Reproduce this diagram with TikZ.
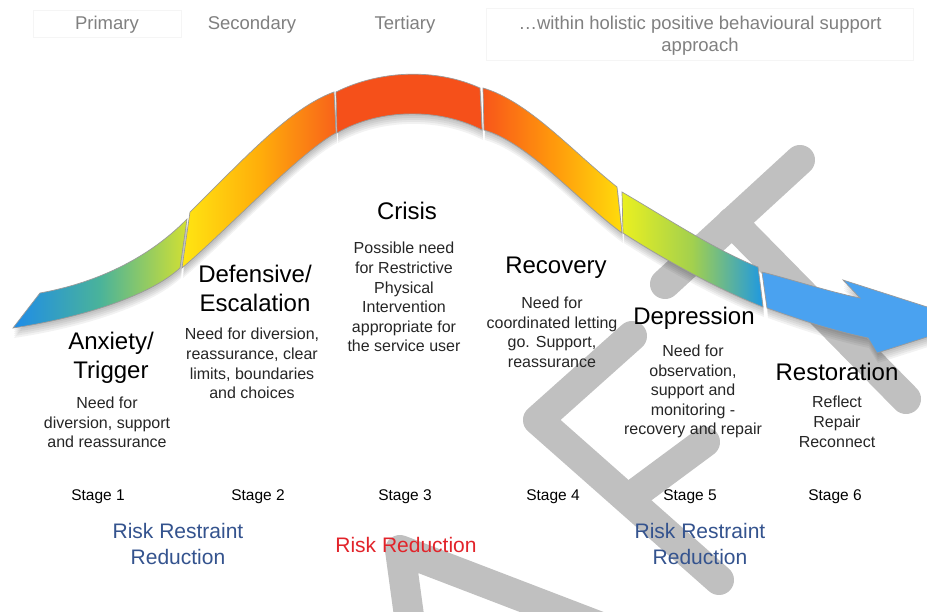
\documentclass[tikz,border=0pt]{standalone}
\usepackage{fontspec}
\setmainfont{Liberation Sans}
\definecolor{wmgray}{HTML}{C0C0C0}
\definecolor{tiergray}{HTML}{808080}
\definecolor{riskblue}{HTML}{34538E}
\definecolor{riskred}{HTML}{E2232A}
\definecolor{bandedge}{HTML}{9A9A9A}
\definecolor{calmblue}{HTML}{1E8CE8}
\definecolor{calmteal}{HTML}{4AB39A}
\definecolor{calmlime}{HTML}{D2E032}
\definecolor{riseyellow}{HTML}{FFE612}
\definecolor{riseamber}{HTML}{FFAE0A}
\definecolor{riseorange}{HTML}{F8621A}
\definecolor{peakred}{HTML}{F5501A}
\definecolor{fallred}{HTML}{F8561A}
\definecolor{fallamber}{HTML}{FF980C}
\definecolor{fallyellow}{HTML}{FFDC0C}
\definecolor{lowyellow}{HTML}{EAF020}
\definecolor{lowgreen}{HTML}{A2D04E}
\definecolor{lowblue}{HTML}{1E98E2}
\definecolor{restblue}{HTML}{4AA2F0}
\usetikzlibrary{positioning}

% band pieces (x=1pt, y=-1pt, origin top left)
\newcommand{\pieceone}{(13,328) -- (40,293)
  .. controls (90,284) and (145,262) .. (187,219) -- (180,268)
  .. controls (150,296) and (80,318) .. (13,328) -- cycle}
\newcommand{\piecetwo}{(190,212) .. controls (245,158) and (290,108) .. (334,92)
  -- (336,133) .. controls (300,152) and (225,232) .. (182,268) -- cycle}
\newcommand{\piecethree}{(336,92) .. controls (380,70) and (436,68) .. (480,88)
  -- (482,130) .. controls (440,108) and (380,108) .. (337,133) -- cycle}
\newcommand{\piecefour}{(483,88) .. controls (528,101) and (572,151) .. (617,187)
  -- (622,233) .. controls (577,200) and (529,143) .. (484,130) -- cycle}
\newcommand{\piecefive}{(622,192) .. controls (665,217) and (715,250) .. (758,267)
  -- (763,307) .. controls (720,290) and (668,262) .. (623,233) -- cycle}
\newcommand{\piecesix}{(762,272) .. controls (790,279) and (830,292) .. (860,298)
  -- (843,280) -- (974,322) -- (877,353) -- (868,338)
  .. controls (830,330) and (795,318) .. (767,308) -- cycle}

\begin{document}
\begin{tikzpicture}[
    x=1pt, y=-1pt,
    head/.style={font=\fontsize{24}{29}\selectfont, align=center, inner sep=0pt, anchor=north},
    need/.style={font=\fontsize{16}{19.6}\selectfont, align=center, inner sep=0pt, text=black!85},
    stagelbl/.style={font=\fontsize{15.5}{18}\selectfont, inner sep=0pt, anchor=base},
    risk/.style={font=\fontsize{21}{26}\selectfont, align=center, inner sep=0pt},
    tier/.style={font=\fontsize{18.5}{22}\selectfont, text=tiergray, align=center, inner sep=0pt},
    tierbox/.style={draw=black!4, line width=0.8pt},
    piece/.style={draw=bandedge, line width=0.7pt},
    wm/.style={draw=wmgray, line width=30pt, line cap=round, line join=round}
]

\useasboundingbox[fill=white] (0,0) rectangle (927,612);

% ── Watermark letters (behind everything) ──
\draw[wm] (413,645) -- (400,550) -- (700,665);
\draw[wm] (632,336) -- (538,420) -- (719,580);
\draw[wm] (628,499) -- (705,442);
\draw[wm] (800,160) -- (665,284);
\draw[wm] (732,222) -- (906,399);

% ── Phase headers ──
\draw[tierbox] (33,10) rectangle (181,37);
\draw[tierbox] (486,8) rectangle (913,60);
\node[tier, anchor=base] (primary) at (107,29.5) {Primary};
\node[tier, anchor=base] (secondary) at (252,29.5) {Secondary};
\node[tier, anchor=base] (tertiary) at (405,29.5) {Tertiary};
\node[tier, anchor=north] (holistic) at (700,16) {\ldots within holistic positive behavioural support\\approach};

% ── Band shadow ──
\foreach \dy in {2,4,...,10}
  \fill[black, opacity=0.05, shift={(1,\dy)}]
    \pieceone \piecetwo \piecethree \piecefour \piecefive \piecesix;

% ── Band ──
\path[piece, left color=calmblue, right color=calmlime, middle color=calmteal] \pieceone;
\path[piece, left color=riseyellow, right color=riseorange, middle color=riseamber] \piecetwo;
\path[piece, fill=peakred] \piecethree;
\path[piece, left color=fallred, right color=fallyellow, middle color=fallamber] \piecefour;
\path[piece, left color=lowyellow, right color=lowblue, middle color=lowgreen] \piecefive;
\path[piece, fill=restblue] \piecesix;

% ── Stages along the curve ──
\node[head] (anx) at (111,332) {Anxiety/\\Trigger};
\node[need, below=13pt of anx, xshift=-4pt] (anxneed) {Need for\\diversion, support\\and reassurance};

\node[head] (def) at (255,265) {Defensive/\\Escalation};
\node[need, below=16pt of def, xshift=-3pt] (defneed) {Need for diversion,\\reassurance, clear\\limits, boundaries\\and choices};

\node[head] (cri) at (407,202) {Crisis};
\node[need, below=22pt of cri, xshift=-3pt] (crineed) {Possible need\\for Restrictive\\Physical\\Intervention\\appropriate for\\the service user};

\node[head] (rec) at (556,257) {Recovery};
\node[need, below=18pt of rec, xshift=-4pt] (recneed) {Need for\\coordinated letting\\go. Support,\\reassurance};

\node[head] (dep) at (694,307) {Depression};
\node[need, below=15pt of dep, xshift=-1pt] (depneed) {Need for\\observation,\\support and\\monitoring -\\recovery and repair};

\node[head] (res) at (837,363) {Restoration};
\node[need, below=15pt of res] (resneed) {Reflect\\Repair\\Reconnect};

% ── Stage numbers ──
\node[stagelbl] (st1) at (98,500) {Stage 1};
\node[stagelbl] (st2) at (258,500) {Stage 2};
\node[stagelbl] (st3) at (405,500) {Stage 3};
\node[stagelbl] (st4) at (553,500) {Stage 4};
\node[stagelbl] (st5) at (690,500) {Stage 5};
\node[stagelbl] (st6) at (835,500) {Stage 6};

% ── Risk notes ──
\node[risk, anchor=north, text=riskblue] (rrleft) at (178,523) {Risk Restraint\\Reduction};
\node[risk, anchor=base, text=riskred] (rred) at (406,552) {Risk Reduction};
\node[risk, anchor=north, text=riskblue] (rrright) at (700,523) {Risk Restraint\\Reduction};

\end{tikzpicture}
\end{document}
